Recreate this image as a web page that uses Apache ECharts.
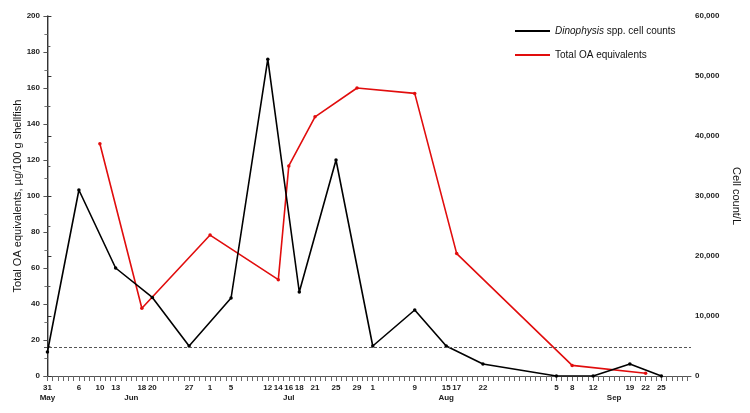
<!DOCTYPE html>
<html>
<head>
<meta charset="utf-8">
<script src="https://cdn.jsdelivr.net/npm/echarts@6/dist/echarts.min.js"></script>
<style>html,body{margin:0;padding:0;background:#fff}#c{width:750px;height:413px}</style>
</head>
<body>
<div id="c"></div>
<script>
// ---- data ----
const YEAR = 2011;
const cellDates = ['05-31','06-06','06-13','06-20','06-27','07-05','07-12','07-18','07-25','08-01','08-09','08-15','08-22','09-05','09-12','09-19','09-25'];
const cellCounts = [4000, 31000, 18000, 13100, 5000, 13000, 52800, 14000, 36000, 5000, 11000, 5000, 2000, 0, 0, 2000, 0];
const oaDates = ['06-10','06-18','07-01','07-14','07-16','07-21','07-29','08-09','08-17','09-08','09-22'];
const oaValues = [129, 37.6, 78.3, 53.5, 116.7, 144, 160, 157, 68, 5.9, 1.5];
const thresholdOA = 16;
const tickLabelDates = ['05-31','06-06','06-10','06-13','06-18','06-20','06-27','07-01','07-05','07-12','07-14','07-16','07-18','07-21','07-25','07-29','08-01','08-09','08-15','08-17','08-22','09-05','09-08','09-12','09-19','09-22','09-25'];
const monthLabels = ['May','Jun','Jul','Aug','Sep'];
const monthLabelDates = ['05-31','06-16','07-16','08-15','09-16'];
const seriesNames = ['Dinophysis spp. cell counts', 'Total OA equivalents'];

// ---- helpers ----
const BASE = Date.UTC(YEAR, 4, 31);
function dayOf(md){ const p = md.split('-').map(Number); return (Date.UTC(YEAR, p[0]-1, p[1]) - BASE) / 86400000; }
function dateOf(day){ return new Date(BASE + Math.round(day) * 86400000); }
const xMin = -0.65, xMax = 122.65;
const dailyTicks = [];
for (let d = 0; d <= 122; d++) dailyTicks.push(d);
const lblFont = { fontFamily: 'Liberation Sans, Arial, sans-serif', fontWeight: 'bold', fontSize: 8, color: '#222' };

const chart = echarts.init(document.getElementById('c'), null, { renderer: 'canvas' });
chart.setOption({
  animation: false,
  backgroundColor: '#fff',
  legend: {
    orient: 'vertical', left: 510, top: 21, itemWidth: 35, itemHeight: 2, itemGap: 14,
    icon: 'rect',
    data: seriesNames,
    formatter: function(n){ return n === seriesNames[0] ? '{i|Dinophysis} spp. cell counts' : n; },
    textStyle: { fontFamily: 'Liberation Sans, Arial, sans-serif', fontSize: 10, color: '#111',
      rich: { i: { fontStyle: 'italic', fontFamily: 'Liberation Sans, Arial, sans-serif', fontSize: 10, color: '#111' } } }
  },
  grid: { left: 44, right: 59, top: 16, bottom: 37, containLabel: false, outerBoundsMode: 'none' },
  xAxis: [{
    type: 'value', min: xMin, max: xMax, position: 'bottom',
    splitLine: { show: false },
    axisLine: { show: true, lineStyle: { color: '#555', width: 1 } },
    axisTick: { show: true, customValues: dailyTicks, length: 5, inside: false, lineStyle: { color: '#666' } },
    axisLabel: Object.assign({ customValues: tickLabelDates.map(dayOf), margin: 8,
      formatter: function(v){ return String(dateOf(v).getUTCDate()); } }, lblFont)
  }, {
    type: 'value', min: xMin, max: xMax, position: 'bottom', gridIndex: 0,
    splitLine: { show: false }, axisLine: { show: false }, axisTick: { show: false },
    axisLabel: Object.assign({ customValues: monthLabelDates.map(dayOf), margin: 18,
      formatter: function(v){ const i = monthLabelDates.map(dayOf).indexOf(Math.round(v)); return i >= 0 ? monthLabels[i] : ''; } }, lblFont)
  }],
  yAxis: [{
    type: 'value', min: 0, max: 200, interval: 20, position: 'left',
    name: 'Total OA equivalents, µg/100 g shellfish', nameLocation: 'middle', nameGap: 21, nameMoveOverlap: false,
    nameTextStyle: { fontFamily: 'Liberation Sans, Arial, sans-serif', fontSize: 11, color: '#111' },
    splitLine: { show: false },
    axisLine: { show: true, lineStyle: { color: '#888', width: 1.5 } },
    axisTick: { show: true, length: 4, lineStyle: { color: '#555' } },
    minorTick: { show: true, splitNumber: 2, length: 3, lineStyle: { color: '#777' } },
    axisLabel: Object.assign({ margin: 4 }, lblFont)
  }, {
    type: 'value', min: 0, max: 60000, interval: 10000, position: 'right',
    name: 'Cell count/L', nameLocation: 'middle', nameGap: 38, nameRotate: -90,
    nameTextStyle: { fontFamily: 'Liberation Sans, Arial, sans-serif', fontSize: 11, color: '#111' },
    splitLine: { show: false },
    axisLine: { show: true, lineStyle: { color: '#333', width: 1 } },
    axisTick: { show: true, length: 4, lineStyle: { color: '#333' } },
    minorTick: { show: true, splitNumber: 2, length: 3, lineStyle: { color: '#555' } },
    axisLabel: Object.assign({ margin: 4, formatter: function(v){ return v.toLocaleString('en-US'); } }, lblFont)
  }],
  series: [{
    name: seriesNames[0], type: 'line', xAxisIndex: 0, yAxisIndex: 1,
    data: cellDates.map(function(d, i){ return [dayOf(d), cellCounts[i]]; }),
    symbol: 'circle', symbolSize: 3.5, showSymbol: true,
    itemStyle: { color: '#000' }, lineStyle: { color: '#000', width: 1.6 },
    z: 3
  }, {
    name: seriesNames[1], type: 'line', xAxisIndex: 0, yAxisIndex: 0,
    data: oaDates.map(function(d, i){ return [dayOf(d), oaValues[i]]; }),
    symbol: 'circle', symbolSize: 3.5, showSymbol: true,
    itemStyle: { color: '#e10d0d' }, lineStyle: { color: '#e10d0d', width: 1.6 },
    z: 2,
    markLine: { silent: true, symbol: 'none', label: { show: false },
      lineStyle: { type: [3, 2], color: '#555', width: 1 },
      data: [{ yAxis: thresholdOA }] }
  }]
});
</script>
</body>
</html>
